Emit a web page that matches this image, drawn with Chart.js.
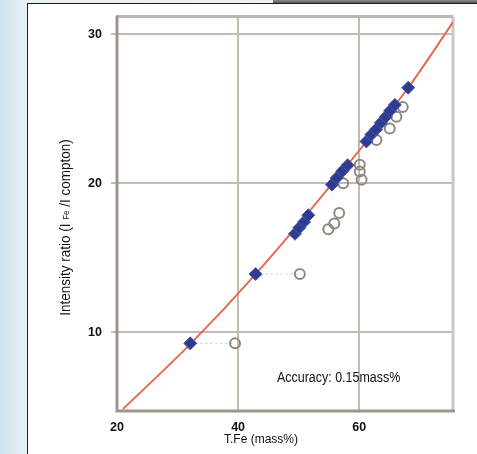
<!DOCTYPE html>
<html>
<head>
<meta charset="utf-8">
<script src="https://cdn.jsdelivr.net/npm/chart.js@4.4.1/dist/chart.umd.min.js"></script>
<style>
  html, body { margin: 0; padding: 0; }
  body {
    width: 477px; height: 454px; overflow: hidden; position: relative;
    background: linear-gradient(to right, #cfe1ee 0%, #e4eef5 4%, #f1f6f9 100%);
  }
  #topbar { position: absolute; left: 273px; top: 0; width: 204px; height: 3px; background: linear-gradient(#8c8c8c, #555); }
  #panel { position: absolute; left: 27px; top: 3px; right: 0; bottom: 0; background: #fff; border-left: 1px solid #1e1e1e; border-top: 1px solid #1e1e1e; }
  #chart { position: absolute; left: 0; top: 0; }
</style>
</head>
<body>
<div id="topbar"></div>
<div id="panel"></div>
<canvas id="chart" width="477" height="454"></canvas>
<script>
// axis ticks / ranges
const xTicks = [20, 40, 60];
const yTicks = [10, 20, 30];
const xRange = [20, 75.5];
const yRange = [4.78, 31.18];

// calibration curve
const curveX = [21.0, 32.1, 42.8, 55.4, 68.1, 75.5];
const curveY = [4.85, 9.2, 13.85, 19.9, 26.4, 30.8];

// corrected values (blue diamonds)
const correctedX = [32.1, 42.9, 49.4, 50.1, 50.9, 51.6, 55.5, 56.3, 57.2, 58.1, 61.2, 62.0, 62.8, 63.6, 64.4, 65.1, 65.9, 68.1];
const correctedY = [9.25, 13.9, 16.6, 17.0, 17.4, 17.85, 19.9, 20.35, 20.8, 21.2, 22.8, 23.25, 23.6, 24.05, 24.45, 24.85, 25.25, 26.4];

// uncorrected values (open circles)
const rawX = [39.5, 50.2, 54.9, 55.9, 56.7, 57.35, 60.1, 60.1, 60.4, 62.85, 65.05, 66.15, 67.2];
const rawY = [9.25, 13.9, 16.9, 17.3, 18.0, 20.0, 21.23, 20.78, 20.23, 22.9, 23.67, 24.45, 25.1];

// dotted links between a diamond and its circle
const linkFromX = [32.1, 42.9];
const linkToX = [39.5, 50.2];
const linkY = [9.25, 13.9];

const xTitle = 'T.Fe (mass%)';
const yTitleParts = ['Intensity ratio (I ', 'Fe', ' /I compton)'];
const note = 'Accuracy: 0.15mass%';

const FONT = '"Liberation Sans", Arial, sans-serif';

const pts = (xs, ys) => xs.map((x, i) => ({ x, y: ys[i] }));

const frame = {
  id: 'frame',
  beforeDatasetsDraw(chart) {
    const { ctx, chartArea: a } = chart;
    ctx.save();
    ctx.lineWidth = 3;
    ctx.strokeStyle = '#bdb6b0';
    ctx.beginPath(); ctx.moveTo(a.left, a.top); ctx.lineTo(a.right, a.top); ctx.stroke();
    ctx.strokeStyle = '#cbc6c2';
    ctx.beginPath(); ctx.moveTo(a.right, a.top); ctx.lineTo(a.right, a.bottom); ctx.stroke();
    ctx.strokeStyle = '#9d948c';
    ctx.beginPath(); ctx.moveTo(a.left, a.top - 1); ctx.lineTo(a.left, a.bottom + 1); ctx.lineTo(a.right + 2, a.bottom + 1); ctx.stroke();
    ctx.restore();
  }
};

const titles = {
  id: 'titles',
  afterDraw(chart) {
    const ctx = chart.ctx;
    ctx.save();
    ctx.fillStyle = '#111';
    ctx.textBaseline = 'alphabetic';

    // x title
    ctx.save();
    ctx.translate(261, 443);
    ctx.scale(0.89, 1);
    ctx.font = '13.5px ' + FONT;
    ctx.textAlign = 'center';
    ctx.fillText(xTitle, 0, 0);
    ctx.restore();

    // note
    ctx.save();
    ctx.translate(277, 382);
    ctx.scale(0.89, 1);
    ctx.font = '14px ' + FONT;
    ctx.textAlign = 'left';
    ctx.fillText(note, 0, 0);
    ctx.restore();

    // y title with small Fe
    ctx.save();
    ctx.translate(69.5, 227.5);
    ctx.rotate(-Math.PI / 2);
    ctx.scale(0.93, 1);
    const big = '14.5px ' + FONT, small = '8.5px ' + FONT;
    const fonts = [big, small, big];
    let total = 0;
    const widths = yTitleParts.map((t, i) => { ctx.font = fonts[i]; const w = ctx.measureText(t).width; total += w; return w; });
    let x = -total / 2;
    ctx.textAlign = 'left';
    yTitleParts.forEach((t, i) => {
      ctx.font = fonts[i];
      ctx.fillText(t, x, i === 1 ? -1 : 0);
      x += widths[i];
    });
    ctx.restore();

    ctx.restore();
  }
};

new Chart(document.getElementById('chart'), {
  data: {
    datasets: [
      {
        type: 'scatter',
        data: pts(correctedX, correctedY),
        pointStyle: 'rectRot',
        pointRadius: 6.5,
        backgroundColor: '#2f3b8f',
        borderColor: '#4a58a6',
        borderWidth: 1,
        order: 0,
      },
      {
        type: 'scatter',
        data: pts(rawX, rawY),
        pointStyle: 'circle',
        pointRadius: 5,
        backgroundColor: 'rgba(255,255,255,0)',
        borderColor: '#8e897f',
        borderWidth: 2,
        order: 1,
      },
      {
        type: 'line',
        data: pts(curveX, curveY),
        borderColor: '#e36b52',
        borderWidth: 2,
        pointRadius: 0,
        cubicInterpolationMode: 'monotone',
        order: 2,
      },
      ...linkFromX.map((x0, i) => ({
        type: 'line',
        data: [{ x: x0, y: linkY[i] }, { x: linkToX[i], y: linkY[i] }],
        borderColor: '#c4c4c4',
        borderWidth: 1,
        borderDash: [2, 3],
        pointRadius: 0,
        order: 3,
      })),
    ],
  },
  options: {
    responsive: false,
    animation: false,
    devicePixelRatio: 1,
    layout: { padding: { left: 0, top: 14, right: 24, bottom: 0 } },
    plugins: { legend: { display: false }, tooltip: { enabled: false } },
    scales: {
      x: {
        type: 'linear',
        min: xRange[0],
        max: xRange[1],
        afterBuildTicks: s => { s.ticks = xTicks.map(v => ({ value: v })); },
        afterFit: s => { s.height = 44; },
        grid: { color: '#c3bab1', lineWidth: 2, drawTicks: false },
        border: { display: false },
        ticks: { color: '#111', padding: 10, maxRotation: 0, autoSkip: false, font: { family: FONT, size: 12.5, weight: 'bold' } },
      },
      y: {
        type: 'linear',
        min: yRange[0],
        max: yRange[1],
        afterBuildTicks: s => { s.ticks = yTicks.map(v => ({ value: v })); },
        afterFit: s => { s.width = 117; },
        grid: { color: '#c3bab1', lineWidth: 2, drawTicks: true, tickLength: 6 },
        border: { display: false },
        ticks: { color: '#111', padding: 9, autoSkip: false, font: { family: FONT, size: 12.5, weight: 'bold' } },
      },
    },
  },
  plugins: [frame, titles],
});
</script>
</body>
</html>
